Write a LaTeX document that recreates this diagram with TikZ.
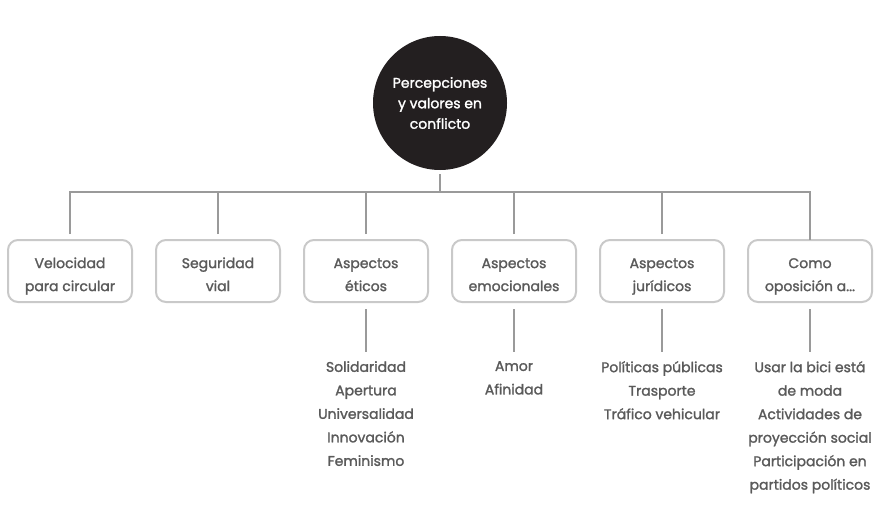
\documentclass[tikz,border=0pt]{standalone}
\usepackage{fontspec}
\setmainfont{Poppins}[FakeBold=1.6]
\definecolor{linegray}{HTML}{9A9A9A}
\definecolor{boxgray}{HTML}{C9C9C9}
\definecolor{txtgray}{HTML}{5A5A5A}
\definecolor{dark}{HTML}{231F20}
\tikzset{
  catbox/.style={draw=boxgray, line width=2pt, rounded corners=10pt, minimum width=124pt, minimum height=62pt, inner sep=0pt},
  cattxt/.style={align=center, text=txtgray, font=\fontsize{14}{23}\selectfont, inner sep=0pt},
  listtxt/.style={anchor=north, align=center, text=txtgray, font=\fontsize{14}{23.5}\selectfont, inner sep=0pt},
  conn/.style={draw=linegray, line width=2.4pt}
}
\begin{document}
\begin{tikzpicture}[x=1pt,y=-1pt]
\useasboundingbox (0,0) rectangle (874,505);
\node[circle, fill=dark, minimum size=134pt, inner sep=0pt, align=center, text=white, font=\fontsize{14}{20.5}\selectfont] (circ) at (440,103) {Percepciones\\y valores en\\conflicto};
\coordinate (hub) at (440,192);
\foreach \n/\x in {b1/70,b2/218,b3/366,b4/514,b5/662,b6/810}{
  \node[catbox] (\n) at (\x,271) {};
}
\node[cattxt] (t1) at ([yshift=-4pt]b1.center) {\strut Velocidad\\\strut para circular};
\node[cattxt] (t2) at ([yshift=-4pt]b2.center) {\strut Seguridad\\\strut vial};
\node[cattxt] (t3) at ([yshift=-4pt]b3.center) {\strut Aspectos\\\strut éticos};
\node[cattxt] (t4) at ([yshift=-4pt]b4.center) {\strut Aspectos\\\strut emocionales};
\node[cattxt] (t5) at ([yshift=-4pt]b5.center) {\strut Aspectos\\\strut jurídicos};
\node[cattxt] (t6) at ([yshift=-4pt]b6.center) {\strut Como\\\strut oposición a...};
\node[listtxt] (l3) at (366,361) {Solidaridad\\Apertura\\Universalidad\\Innovación\\Feminismo};
\node[listtxt] (l4) at (514,361) {Amor\\Afinidad};
\node[listtxt] (l5) at (662,361) {Políticas públicas\\Trasporte\\Tráfico vehicular};
\node[listtxt] (l6) at (810,361) {Usar la bici está\\de moda\\Actividades de\\proyección social\\Participación en\\partidos políticos};
\draw[conn, shorten <=4pt] (circ.south) -- (hub);
\draw[conn, shorten <=5pt, shorten >=-1.2pt] (b1.north) -- (b1.north |- hub) -- (b6.north |- hub) -- (b6.north);
\foreach \b in {b2,b3,b4,b5}{
  \draw[conn, shorten <=5pt] (\b.north) -- (\b.north |- hub);
}
\foreach \b/\l in {b3/l3,b4/l4,b5/l5,b6/l6}{
  \draw[conn, shorten <=6pt, shorten >=9pt] (\b.south) -- (\l.north);
}
\end{tikzpicture}
\end{document}
